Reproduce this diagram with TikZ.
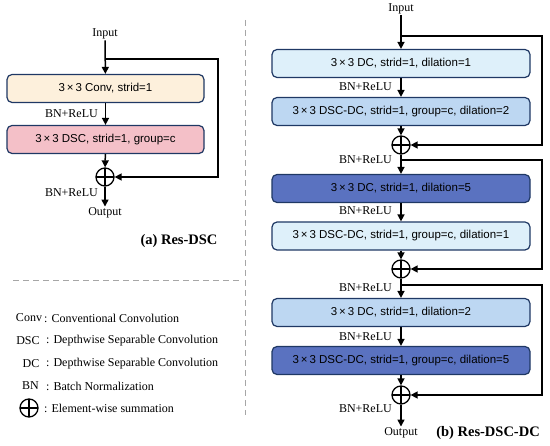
\documentclass[tikz,border=0pt]{standalone}
\usepackage{fontspec}
\setmainfont{Liberation Serif}
\setsansfont{Liberation Sans}
\usetikzlibrary{arrows.meta}
\definecolor{boxline}{HTML}{1F3864}
\definecolor{convfill}{HTML}{FDF0DC}
\definecolor{dscfill}{HTML}{F4C0C8}
\definecolor{lightblue}{HTML}{DEF0FA}
\definecolor{midblue}{HTML}{BDD7F2}
\definecolor{darkblue}{HTML}{5A72C0}
\tikzset{
  blk/.style={draw=boxline, line width=1.2pt, rounded corners=5pt, inner sep=0pt,
    minimum height=28pt, font=\sffamily\fontsize{11.5}{13}\selectfont},
  blkA/.style={blk, minimum width=197pt},
  blkB/.style={blk, minimum width=258pt},
  sumnode/.style={circle, draw, line width=1.3pt, minimum size=18pt, inner sep=0pt,
    path picture={\draw[line width=1.1pt] (path picture bounding box.north) -- (path picture bounding box.south)
      (path picture bounding box.west) -- (path picture bounding box.east);}},
  lbl/.style={font=\fontsize{12}{14}\selectfont, inner sep=1pt},
  captxt/.style={font=\bfseries\fontsize{14.5}{16}\selectfont, inner sep=1pt},
  arr/.style={line width=1.5pt, -{Triangle[width=7pt,length=7pt]}},
  sep/.style={gray!70, line width=0.8pt, dash pattern=on 6pt off 4pt},
}
\begin{document}
\begin{tikzpicture}[x=1pt,y=-1pt]
\useasboundingbox (0,0) rectangle (550,446);
% (a) Res-DSC
\node[lbl] (inA) at (105,34) {Input};
\node[blkA, fill=convfill] (conv) at (105.5,88.5) {3\,×\,3 Conv, strid=1};
\node[blkA, fill=dscfill] (dsc) at (105.5,139.5) {3\,×\,3 DSC, strid=1, group=c};
\node[sumnode] (sumA) at (105,177) {};
\node[lbl] (outA) at (105,213) {Output};
\node[lbl, anchor=east] (bnA1) at (99,114) {BN+ReLU};
\node[lbl, anchor=east] (bnA2) at (99,193) {BN+ReLU};
\coordinate (splitA) at (105,59);
\draw[arr] (inA) -- (conv);
\draw[arr] (conv) -- (dsc);
\draw[arr] (dsc) -- (sumA);
\draw[arr] (sumA) -- (outA);
\draw[arr] (splitA) -- ++(113,0) |- (sumA.east);
\node[captxt] (capA) at (179,241) {(a) Res-DSC};
% separators
\draw[sep] (13,280) -- (240,280);
\draw[sep] (245,20) -- (245,415);
% legend
\node[lbl] (kConv) at (29,318) {Conv};
\node[lbl] (kDSC) at (28,341) {DSC};
\node[lbl] (kDC) at (31,364) {DC};
\node[lbl] (kBN) at (30.5,386) {BN};
\node[sumnode] (kSum) at (29,408) {};
\node[lbl, anchor=west] (dConv) at (43,318) {: Conventional Convolution};
\node[lbl, anchor=west] (dDSC) at (45,341) {: Depthwise Separable Convolution};
\node[lbl, anchor=west] (dDC) at (45,364) {: Depthwise Separable Convolution};
\node[lbl, anchor=west] (dBN) at (45,386) {: Batch Normalization};
\node[lbl, anchor=west] (dSum) at (43,408) {: Element-wise summation};
% (b) Res-DSC-DC
\node[lbl] (inB) at (401,9) {Input};
\node[blkB, fill=lightblue] (b1) at (401,63.5) {3\,×\,3 DC, strid=1, dilation=1};
\node[blkB, fill=midblue] (b2) at (401,111.5) {3\,×\,3 DSC-DC, strid=1, group=c, dilation=2};
\node[sumnode] (sum1) at (401,145) {};
\node[blkB, fill=darkblue] (b3) at (401,188.5) {3\,×\,3 DC, strid=1, dilation=5};
\node[blkB, fill=lightblue] (b4) at (401,236) {3\,×\,3 DSC-DC, strid=1, group=c, dilation=1};
\node[sumnode] (sum2) at (401,269) {};
\node[blkB, fill=midblue] (b5) at (401,312.5) {3\,×\,3 DC, strid=1, dilation=2};
\node[blkB, fill=darkblue] (b6) at (401,360.5) {3\,×\,3 DSC-DC, strid=1, group=c, dilation=5};
\node[sumnode] (sum3) at (401,395) {};
\node[lbl] (outB) at (401,433) {Output};
\node[lbl, anchor=east] (bnB1) at (393,87) {BN+ReLU};
\node[lbl, anchor=east] (bnB2) at (393,160) {BN+ReLU};
\node[lbl, anchor=east] (bnB3) at (393,211) {BN+ReLU};
\node[lbl, anchor=east] (bnB4) at (393,288) {BN+ReLU};
\node[lbl, anchor=east] (bnB5) at (393,337) {BN+ReLU};
\node[lbl, anchor=east] (bnB6) at (393,409) {BN+ReLU};
\coordinate (split1) at (401,36);
\coordinate (split2) at (401,160);
\coordinate (split3) at (401,285);
\draw[arr] (inB) -- (b1);
\draw[arr] (b1) -- (b2);
\draw[arr] (b2) -- (sum1);
\draw[arr] (sum1) -- (b3);
\draw[arr] (b3) -- (b4);
\draw[arr] (b4) -- (sum2);
\draw[arr] (sum2) -- (b5);
\draw[arr] (b5) -- (b6);
\draw[arr] (b6) -- (sum3);
\draw[arr] (sum3) -- (outB);
\draw[arr] (split1) -- ++(141,0) |- (sum1.east);
\draw[arr] (split2) -- ++(141,0) |- (sum2.east);
\draw[arr] (split3) -- ++(141,0) |- (sum3.east);
\node[captxt] (capB) at (488,433) {(b) Res-DSC-DC};
\end{tikzpicture}
\end{document}
